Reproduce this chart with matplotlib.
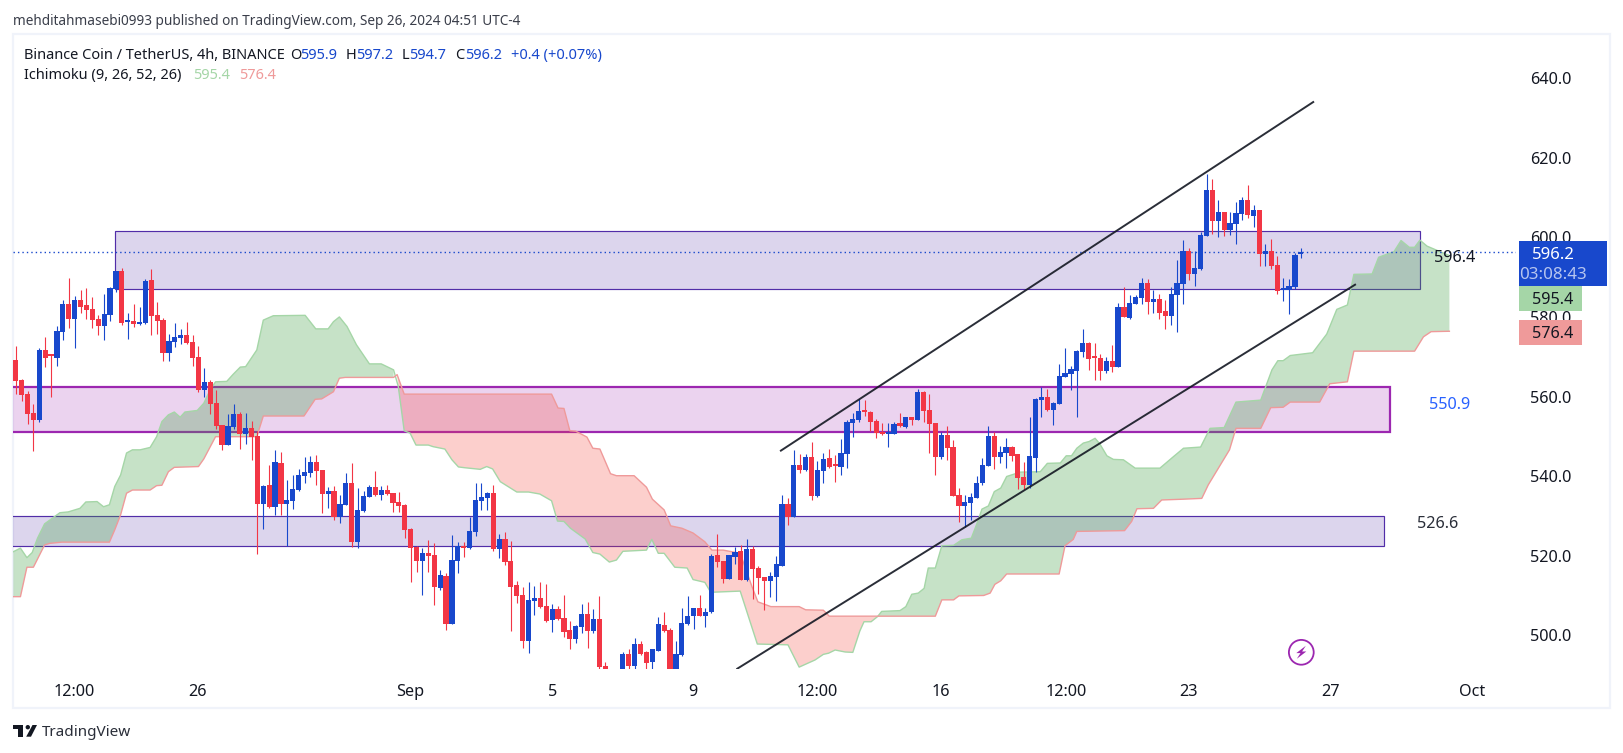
import numpy as np
import matplotlib
matplotlib.use("Agg")
import matplotlib.pyplot as plt
from matplotlib.patches import Rectangle, Circle, Polygon

plt.rcParams['font.family'] = ['Noto Sans', 'DejaVu Sans']

# ---------- data ----------
opens = [569.2,564.2,560.7,555.9,554.2,571.7,570.3,569.7,576.3,583.3,
579.5,584.3,583.0,582.0,579.5,577.8,580.5,587.1,591.6,578.8,
579.0,578.3,578.5,589.3,580.5,579.3,571.0,573.7,574.8,575.5,
573.7,570.0,561.7,563.7,558.4,552.9,547.9,552.4,555.7,550.6,
552.1,550.1,533.0,537.8,532.3,543.3,533.0,533.8,536.6,540.1,
540.8,543.6,541.6,535.6,536.3,529.8,532.8,538.3,523.5,531.3,
534.8,537.3,535.3,536.6,535.8,533.5,532.8,526.7,522.2,518.7,
520.7,520.2,511.9,514.9,502.9,518.7,522.2,522.0,526.0,533.8,
534.5,535.8,521.7,524.2,518.7,512.7,510.2,498.6,508.7,509.4,
507.4,503.9,506.6,504.4,501.4,499.1,502.1,505.4,501.1,504.1,
492.3,489.0,486.0,486.0,495.3,492.3,497.8,495.8,493.3,496.1,
502.6,501.4,488.5,495.1,502.9,504.9,506.9,504.9,505.9,520.2,
518.7,514.2,519.7,521.2,513.9,521.7,516.9,514.7,513.7,514.7,
517.4,533.0,529.7,542.8,541.6,544.8,535.0,541.3,544.6,542.8,
542.3,545.6,553.4,554.2,556.4,556.2,553.9,551.1,550.7,550.6,
553.4,552.4,554.9,554.2,561.2,556.7,553.4,544.9,550.4,547.4,
535.3,532.5,533.3,534.5,538.3,542.6,550.1,544.9,545.9,547.4,
545.6,539.8,537.8,544.6,559.2,559.9,556.7,558.2,565.0,565.7,
566.5,571.2,573.5,570.0,569.7,566.5,569.0,567.5,582.5,579.8,
583.3,584.8,588.6,583.8,584.5,581.5,580.3,585.5,588.3,596.6,
590.8,592.1,600.4,612.0,604.1,606.4,601.9,603.4,605.9,609.4,
605.4,606.9,595.8,596.6,593.1,586.8,586.8,587.6,595.9]

highs = [572.7,564.4,561.3,558.2,572.2,575.0,570.7,577.8,584.3,589.8,
585.3,586.8,587.3,585.1,580.5,585.8,587.6,591.6,592.3,581.0,
583.3,582.5,589.6,592.1,583.8,579.8,575.8,578.5,577.0,578.8,
575.5,572.7,567.2,564.2,561.7,552.9,555.7,558.2,556.2,555.9,
553.9,551.4,537.8,542.8,546.6,546.1,539.1,540.3,541.8,544.9,
545.1,545.4,541.6,537.3,537.6,535.3,540.8,543.3,537.1,536.3,
537.8,541.3,537.6,537.8,535.8,536.1,533.0,527.0,522.5,522.0,
524.0,523.2,516.4,515.7,525.2,523.5,523.5,529.8,538.3,538.3,
536.0,537.8,525.5,526.0,523.7,513.7,512.2,513.4,512.4,513.4,
512.9,507.9,507.4,510.2,503.6,502.6,507.9,508.4,506.6,509.9,
493.3,491.0,490.0,495.8,496.6,499.4,498.6,496.1,496.6,504.6,
505.9,501.9,498.6,506.9,509.9,506.9,510.2,506.9,520.5,525.5,
518.7,520.2,522.2,522.7,524.2,522.5,517.4,514.7,515.9,519.9,
535.3,534.5,546.6,545.6,545.6,548.6,543.8,545.9,546.9,545.4,
549.4,554.2,555.9,559.4,559.2,556.4,554.4,553.4,553.4,553.6,
555.9,554.9,554.9,561.9,561.4,560.7,553.4,551.1,552.6,549.1,
537.1,535.3,535.8,540.1,544.6,552.6,551.1,547.6,549.6,547.6,
545.6,543.6,554.9,559.7,562.4,561.9,558.7,568.2,572.2,567.7,
571.7,577.0,573.7,573.5,570.7,570.0,573.0,583.5,587.6,585.5,
585.5,589.8,589.6,586.8,585.8,584.3,587.6,594.3,599.4,597.4,
596.6,601.4,616.0,614.7,609.4,606.4,606.4,608.9,610.2,613.2,
608.2,606.9,598.4,599.6,595.3,589.8,589.6,596.1,597.2]

lows = [560.7,558.8,553.1,546.2,553.7,567.5,559.8,567.7,574.3,577.3,
572.2,581.0,579.5,577.1,575.5,574.3,579.0,586.3,578.0,574.5,
577.5,578.0,578.3,575.5,575.8,569.0,569.0,572.5,573.2,573.2,
567.7,561.2,559.9,555.7,551.9,546.6,547.9,551.9,546.9,548.1,
544.1,520.5,526.8,532.0,530.3,530.3,522.4,531.8,536.3,538.3,
539.8,537.8,530.8,532.0,529.0,528.3,532.8,522.2,522.0,531.0,
534.8,535.1,534.0,535.3,531.0,531.0,524.5,513.4,515.9,510.2,
515.9,507.6,511.4,501.4,502.9,515.7,519.7,521.7,525.0,531.5,
531.5,521.2,519.5,517.7,501.1,508.1,496.8,495.6,505.1,506.9,
503.4,500.9,503.9,499.6,496.6,498.1,500.6,496.8,500.6,491.6,
488.5,485.0,484.0,484.0,490.9,491.3,495.1,491.3,491.3,496.1,
500.9,487.5,487.5,494.8,502.6,501.6,504.9,502.1,505.6,517.2,
513.2,514.2,517.9,513.9,513.7,509.2,510.4,506.4,509.7,508.7,
517.4,527.7,529.7,540.8,541.3,534.0,534.8,538.3,542.1,538.6,
540.3,542.1,549.9,553.6,555.2,551.4,549.6,550.4,547.4,550.6,
552.4,552.1,552.9,554.2,553.6,545.9,540.3,544.4,544.1,535.1,
528.5,527.3,529.0,534.5,537.8,542.6,541.8,543.4,542.1,543.9,
536.8,536.8,537.1,541.1,554.9,556.4,552.9,558.2,565.0,561.7,
554.9,570.0,566.7,564.2,564.2,566.0,566.2,567.5,580.0,579.5,
583.3,583.3,580.8,581.0,579.5,577.0,578.0,576.2,583.3,589.3,
587.8,591.8,600.4,600.9,600.1,600.4,600.6,598.4,604.4,604.9,
602.6,592.8,592.8,592.1,585.8,584.0,580.8,587.1,594.7]

closes = [564.0,560.5,555.7,554.2,571.7,569.7,570.1,576.5,583.3,579.5,
584.3,582.5,581.8,579.3,577.8,580.8,587.3,591.6,578.5,579.0,
578.3,578.5,589.1,580.3,579.0,571.0,574.0,575.0,575.5,573.5,
569.7,561.7,563.7,558.2,552.6,547.9,552.6,555.7,550.6,552.1,
549.9,533.0,537.6,532.3,543.6,533.0,534.0,536.8,540.3,541.1,
543.6,541.3,535.6,536.3,529.8,533.0,538.3,523.5,531.5,535.1,
537.3,535.3,536.6,535.6,533.3,532.5,526.5,522.0,518.7,520.7,
519.9,512.2,515.2,502.9,518.9,522.4,522.0,526.2,534.0,534.8,
535.8,521.7,524.2,518.4,512.2,509.9,498.6,508.9,509.4,507.1,
503.6,506.6,504.1,500.9,499.1,502.4,505.4,501.1,504.1,492.1,
489.0,486.0,489.0,495.3,492.3,497.8,495.3,493.1,496.6,502.9,
501.1,488.5,495.3,503.1,504.9,506.9,504.9,505.9,520.0,518.4,
514.2,520.2,520.9,513.9,521.7,516.7,514.4,513.7,514.9,517.9,
533.0,529.7,542.8,541.6,544.8,535.0,541.6,544.4,542.3,542.6,
545.9,553.6,554.4,556.4,556.2,553.6,550.9,550.6,551.0,553.1,
552.6,554.9,554.2,561.2,556.4,553.1,544.9,550.4,547.1,535.1,
532.5,533.5,534.8,538.3,542.8,550.1,544.9,546.1,547.4,545.1,
539.6,537.8,545.1,559.4,559.9,556.7,558.4,565.2,565.9,567.0,
571.5,573.5,569.5,569.7,566.5,569.0,567.5,582.5,580.0,583.5,
585.1,588.6,583.8,584.5,581.0,580.3,585.8,588.6,596.6,590.8,
592.3,600.6,612.0,604.1,606.4,601.9,603.6,606.2,609.4,605.7,
606.9,595.8,596.6,592.8,586.6,587.3,587.8,595.6,596.2]

span_a_x = [-0.4,0.8,1.9,2.8,3.7,4.9,7.5,8.9,10.9,11.9,13.8,14.9,15.9,16.8,17.8,18.8,19.8,21.1,22.8,23.9,
24.8,25.9,26.9,27.9,28.7,30.8,31.9,33.0,33.9,35.8,36.9,38.1,39.0,40.9,42.0,43.7,49.1,50.9,53.0,53.9,
54.9,56.2,57.8,60.0,62.0,64.1,64.9,65.9,66.9,67.9,70.0,70.8,72.8,74.0,75.1,76.2,78.8,79.9,80.9,82.2,
85.0,87.0,88.9,90.9,91.9,93.0,94.1,96.6,97.9,99.1,100.7,101.9,103.0,107.0,107.9,109.0,110.0,111.8,113.9,114.9,
116.9,117.9,122.9,125.8,131.0,132.9,135.6,137.0,137.9,139.0,140.7,142.0,143.2,143.9,145.1,146.2,146.9,150.0,151.0,152.0,
153.1,154.1,154.8,156.0,157.1,159.1,160.5,162.1,163.3,163.9,165.0,166.0,167.1,168.1,170.4,173.8,175.0,177.2,178.2,179.1,
180.0,181.1,182.1,183.1,183.9,185.1,186.2,187.9,189.9,194.1,196.4,198.1,201.0,202.6,205.0,207.0,211.2,213.1,214.1,215.0,
216.2,220.0,222.4,224.1,225.9,227.0,230.1,231.2,233.8,235.0,236.4,237.3,238.2,239.4,243.2]
span_a = [521.0,521.9,519.5,520.8,524.4,528.0,530.8,531.0,531.9,533.5,533.6,532.3,532.8,537.4,540.3,545.8,546.6,546.6,547.2,549.9,
553.7,555.4,556.1,554.8,556.1,556.5,558.3,561.7,563.7,563.8,565.6,567.4,567.5,571.7,579.2,580.3,580.4,577.0,577.0,578.8,
580.0,577.6,573.0,568.2,568.2,566.7,562.5,551.4,550.8,547.8,547.8,547.4,546.8,544.1,542.3,542.1,541.7,542.4,541.8,538.6,
536.0,536.0,535.5,533.8,528.7,528.6,526.9,524.2,520.8,520.4,518.4,518.9,521.1,521.4,524.1,520.6,520.6,517.1,516.9,514.0,
513.3,510.8,511.1,497.8,497.6,492.0,493.8,495.2,495.5,496.3,495.8,495.7,501.1,503.4,503.4,504.7,506.0,506.2,507.2,510.3,
510.6,511.8,516.9,516.9,522.5,522.6,524.0,524.4,529.0,531.7,532.5,536.1,537.0,539.9,541.0,541.1,543.2,543.3,545.1,545.1,
547.0,548.3,548.7,549.5,548.1,545.1,544.2,544.1,542.0,542.0,544.9,547.0,547.3,552.0,552.2,558.6,559.1,566.7,569.0,569.0,
570.3,571.0,575.7,581.9,583.0,590.7,590.8,595.0,596.4,599.2,597.5,597.5,599.3,597.8,595.4]

span_b_x = [-0.4,0.8,1.9,3.0,4.9,5.8,7.8,15.9,16.8,17.8,18.8,19.8,22.8,23.9,24.8,25.9,26.9,31.0,31.9,33.9,
40.9,42.0,48.9,50.8,51.9,53.9,54.9,55.9,64.1,64.7,65.9,90.9,92.0,93.0,94.0,95.0,96.9,97.9,99.1,100.9,
101.9,104.9,107.0,108.0,110.0,111.1,113.0,114.9,116.9,118.1,120.0,122.9,124.9,125.9,128.1,132.9,134.0,137.0,138.0,156.0,
157.1,159.1,160.0,164.2,165.3,166.1,167.1,168.1,177.0,178.0,179.4,180.0,188.1,189.3,190.2,193.0,194.4,198.1,201.2,202.3,
205.9,207.0,211.2,212.9,215.0,216.2,221.2,222.9,225.9,227.0,237.3,238.8,240.1,243.2]
span_b = [509.7,509.7,517.1,517.1,522.7,523.1,523.4,523.4,526.5,530.3,535.7,536.5,536.5,537.6,537.7,541.1,542.2,542.4,544.3,549.9,
549.9,555.1,555.1,559.3,559.4,561.2,564.6,564.8,564.8,565.5,560.6,560.6,557.1,557.0,551.4,551.3,549.8,547.0,546.8,540.6,
540.1,540.1,537.2,534.2,531.5,527.5,526.9,525.7,523.5,521.4,521.4,520.6,512.2,508.4,507.2,507.2,506.4,506.3,504.8,504.8,
508.9,508.9,509.9,510.0,510.6,512.8,513.7,515.4,515.4,522.5,524.1,526.1,526.3,528.6,531.8,531.9,534.0,534.2,534.4,537.8,
546.6,552.0,552.0,557.2,557.3,558.6,558.6,563.2,563.7,571.4,571.4,575.0,576.3,576.4]

cloud_crossings = [-0.4, 64.4, 146.2, 243.2]
cloud_colors = ['#43a047', '#f44336', '#43a047']
cloud_alphas = [0.30, 0.25, 0.30]

upper_channel_x = [129.8, 220.1]
upper_channel_y = [546.4, 634.0]
lower_channel_x = [122.4, 227.2]
lower_channel_y = [491.6, 588.1]

zone_x0 = [16.9, -5, -5]
zone_x1 = [238.2, 233.1, 232.1]
zone_top = [601.6, 562.5, 530.0]
zone_bottom = [587.0, 551.0, 522.4]
zone_colors = ['#512da8', '#9c27b0', '#512da8']
zone_widths = [0.85, 1.6, 0.85]

last_price = 596.2
price_ticks = [500, 520, 540, 560, 580, 600, 620, 640]
date_tick_pos = [9.9, 30.9, 66.9, 91.0, 114.9, 135.9, 157.0, 178.2, 198.9, 223.1, 247.0]
date_tick_labels = ['12:00', '26', 'Sep', '5', '9', '12:00', '16', '12:00', '23', '27', 'Oct']

# ---------- layout ----------
W, H = 1624, 753
fig = plt.figure(figsize=(W / 100, H / 100), dpi=100, facecolor='white')
DARK = '#131722'
BLUE = '#1848cc'
RED = '#f23645'

bg = fig.add_axes([0, 0, 1, 1], zorder=0)
bg.set_xlim(0, W); bg.set_ylim(H, 0); bg.axis('off')
bg.add_patch(Rectangle((13, 33.5), 1597.5, 674.5, fc='white', ec='#f0f3fa', lw=1.6))

PX_L, PX_R, PX_T, PX_B = 13.0, 1516.0, 34.0, 668.7
ax = fig.add_axes([PX_L / W, 1 - PX_B / H, (PX_R - PX_L) / W, (PX_B - PX_T) / H], zorder=1)
ax.patch.set_alpha(0)
ax.set_xlim(-0.46, 254.5)
ax.set_ylim(491.6, 651.1)
for s in ax.spines.values():
    s.set_visible(False)
ax.yaxis.tick_right()
ax.set_yticks(price_ticks)
ax.set_yticklabels([f'{p:.1f}' for p in price_ticks])
ax.set_xticks(date_tick_pos)
ax.set_xticklabels(date_tick_labels)
ax.tick_params(axis='y', length=0, pad=10.4, labelsize=11.7, labelcolor=DARK)
ax.tick_params(axis='x', length=0, pad=11.2, labelsize=11.7, labelcolor=DARK)

# zones
for x0, x1, t, b, c, w in zip(zone_x0, zone_x1, zone_top, zone_bottom, zone_colors, zone_widths):
    ax.add_patch(Rectangle((x0, b), x1 - x0, t - b, fc=c, alpha=0.2, ec='none', zorder=1))
    ax.add_patch(Rectangle((x0, b), x1 - x0, t - b, fc='none', ec=c, lw=w, zorder=1.1))

# cloud: one polygon per stretch between crossings of the two spans
ax_arr, ay_arr = np.array(span_a_x), np.array(span_a)
bx_arr, by_arr = np.array(span_b_x), np.array(span_b)
for i, (col, al) in enumerate(zip(cloud_colors, cloud_alphas)):
    lo, hi = cloud_crossings[i], cloud_crossings[i + 1]
    ma = (ax_arr >= lo) & (ax_arr <= hi)
    mb = (bx_arr >= lo) & (bx_arr <= hi)
    xs = np.concatenate([ax_arr[ma], bx_arr[mb][::-1]])
    ys = np.concatenate([ay_arr[ma], by_arr[mb][::-1]])
    ax.fill(xs, ys, fc=col, alpha=al, ec='none', zorder=2)
ax.plot(span_a_x, span_a, color='#a5d6a7', lw=1.0, zorder=2.2, solid_joinstyle='round')
ax.plot(span_b_x, span_b, color='#ef9a9a', lw=1.0, zorder=2.2, solid_joinstyle='round')

# last price line
ax.axhline(last_price, color=BLUE, lw=1.0, ls=(0, (1, 2.2)), zorder=2.5)

# candles
idx = np.arange(len(opens))
o, h, l, c = map(np.array, (opens, highs, lows, closes))
up = c >= o
col = np.where(up, BLUE, RED)
ax.vlines(idx, l, h, colors=col, lw=0.8, zorder=3)
ax.bar(idx, np.maximum(np.abs(c - o), 0.5), bottom=np.minimum(o, c), width=0.88, color=col, lw=0, zorder=3.1)

# channel
ax.plot(upper_channel_x, upper_channel_y, color=DARK, lw=1.4, alpha=0.9, zorder=4)
ax.plot(lower_channel_x, lower_channel_y, color=DARK, lw=1.4, alpha=0.9, zorder=4)

# ---------- overlay ----------
ov = fig.add_axes([0, 0, 1, 1], zorder=3)
ov.patch.set_alpha(0)
ov.set_xlim(0, W); ov.set_ylim(H, 0); ov.axis('off')

FS = 9.8
LS = 10.5
ov.text(13, 21, 'mehditahmasebi0993 published on TradingView.com, Sep 26, 2024 04:51 UTC-4',
        fontsize=FS, color='#3a3e4a', va='center')
ov.text(23.7, 55, 'Binance Coin / TetherUS, 4h, BINANCE', fontsize=LS, color=DARK, va='center')
for x, s, cc in [(289.7, 'O', DARK), (300, '595.9', BLUE), (346, 'H', DARK), (355.7, '597.2', BLUE),
                 (402, 'L', DARK), (409, '594.7', BLUE), (455, 'C', DARK), (465, '596.2', BLUE),
                 (510.7, '+0.4 (+0.07%)', BLUE)]:
    ov.text(x, 55, s, fontsize=LS, color=cc, va='center')
ov.text(23.7, 75.5, 'Ichimoku (9, 26, 52, 26)', fontsize=LS, color=DARK, va='center')
ov.text(193, 75.5, '595.4', fontsize=LS, color='#a5d6a7', va='center')
ov.text(239, 75.5, '576.4', fontsize=LS, color='#ef9a9a', va='center')

ov.text(1455, 258, '596.4', fontsize=11.7, color=DARK, ha='center', va='center')
ov.text(1449.5, 405, '550.9', fontsize=11.7, color='#2962ff', ha='center', va='center')
ov.text(1437.5, 524, '526.6', fontsize=11.7, color='#2a2e39', ha='center', va='center')

# price scale tags
ov.add_patch(Rectangle((1519, 241), 87.7, 44.7, fc=BLUE, ec='none'))
ov.add_patch(Rectangle((1519, 285.7), 63, 25, fc='#a5d6a7', ec='none'))
ov.add_patch(Rectangle((1519, 320), 63, 24.7, fc='#ef9a9a', ec='none'))
ov.text(1553, 254.7, '596.2', fontsize=12, color='white', ha='center', va='center', fontweight='medium')
ov.text(1553, 274.7, '03:08:43', fontsize=12.2, color='#b6c5ef', ha='center', va='center')
ov.text(1553, 299.5, '595.4', fontsize=11.7, color=DARK, ha='center', va='center')
ov.text(1553, 333.5, '576.4', fontsize=11.7, color=DARK, ha='center', va='center')

# lightning icon
cx, cy = 1301.3, 652.3
ov.add_patch(Circle((cx, cy), 12.4, fc='white', ec='#9c27b0', lw=1.3))
ov.add_patch(Polygon([(cx + 4.5, cy - 6.5), (cx - 5, cy + 0.8), (cx - 0.8, cy + 0.8), (cx - 4.5, cy + 6.5),
                      (cx + 5, cy - 0.8), (cx + 0.8, cy - 0.8)], fc='#9c27b0', ec='none'))

# logo
ov.add_patch(Polygon([(13, 725), (23.5, 725), (23.5, 736.7), (18, 736.7), (18, 729.3), (13, 729.3)], fc=DARK, ec='none'))
ov.add_patch(Circle((27.8, 727.2), 2.2, fc=DARK, ec='none'))
ov.add_patch(Polygon([(32.5, 725), (37, 725), (31, 736.7), (26.2, 736.7)], fc=DARK, ec='none'))
ov.text(42, 733, 'TradingView', fontsize=11, color='#2a2e39', va='center')

fig.savefig('out.png', dpi=100, facecolor='white')
